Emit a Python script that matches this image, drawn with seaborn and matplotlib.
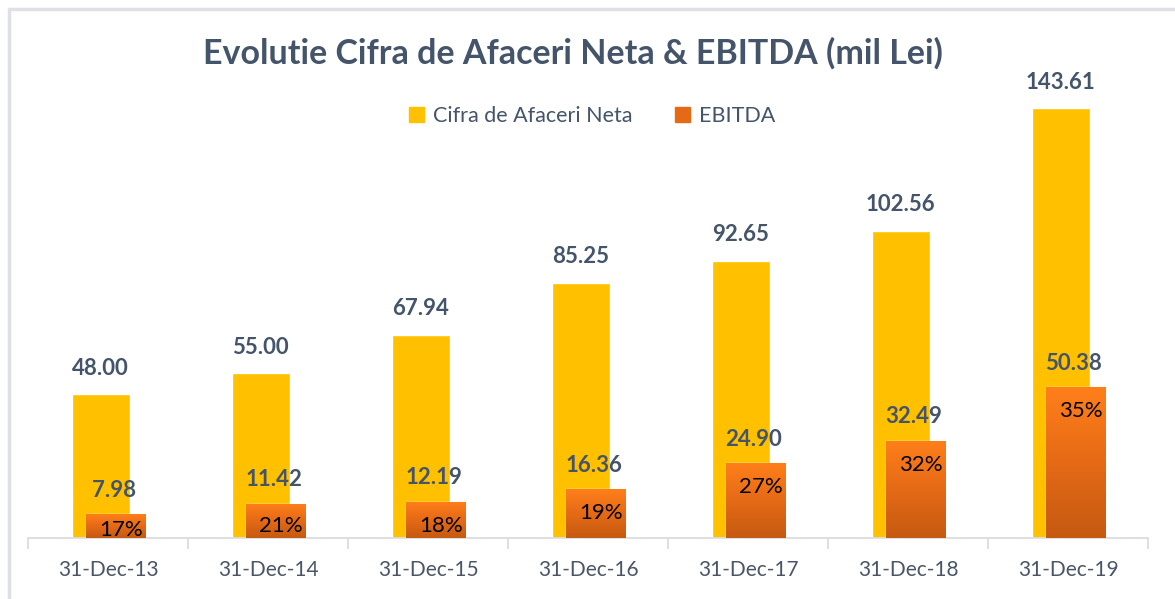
import numpy as np
import pandas as pd
import matplotlib
matplotlib.use("Agg")
import matplotlib.pyplot as plt
import matplotlib.patches as mpatches
from matplotlib.colors import LinearSegmentedColormap
import seaborn as sns

categories = ["31-Dec-13", "31-Dec-14", "31-Dec-15", "31-Dec-16", "31-Dec-17", "31-Dec-18", "31-Dec-19"]
cifra_afaceri = [48.00, 55.00, 67.94, 85.25, 92.65, 102.56, 143.61]
ebitda = [7.98, 11.42, 12.19, 16.36, 24.90, 32.49, 50.38]
ebitda_pct = ["17%", "21%", "18%", "19%", "27%", "32%", "35%"]

title = "Evolutie Cifra de Afaceri Neta & EBITDA (mil Lei)"
series_names = ["Cifra de Afaceri Neta", "EBITDA"]

sns.set_theme(style="white")
plt.rcParams['font.family'] = ['Lato', 'DejaVu Sans']

W, H = 1175, 599
DPI = 100
PX = 72 / DPI  # points per pixel
fig = plt.figure(figsize=(W / DPI, H / DPI), dpi=DPI)
fig.patch.set_facecolor("white")

# figure border (top and left visible light grey lines)
fig.add_artist(plt.Line2D([8.5 / W, 1.0], [1 - 8.5 / H, 1 - 8.5 / H], color="#DDE1E6", lw=2.5))
fig.add_artist(plt.Line2D([8.5 / W, 8.5 / W], [0, 1 - 8.5 / H], color="#DDE1E6", lw=2.5))

ax_left, ax_right = 28, 1148
ax_bottom, ax_top = 538, 59
ax = fig.add_axes([ax_left / W, (H - ax_bottom) / H, (ax_right - ax_left) / W, (ax_bottom - ax_top) / H])
YMAX = 160
px_per_unit = (ax_bottom - ax_top) / YMAX

df = pd.DataFrame({"cat": categories, "cifra": cifra_afaceri, "ebitda": ebitda})

yellow = "#FFC000"
text_col = "#44546A"

sns.barplot(data=df, x="cat", y="cifra", color=yellow, ax=ax, width=0.36, saturation=1, zorder=2)
n_y = len(ax.patches)
sns.barplot(data=df, x="cat", y="ebitda", color="#F07520", ax=ax, width=0.37, saturation=1, zorder=3)

ybars = ax.patches[:n_y]
obars = ax.patches[n_y:]
for p in ybars:
    p.set_x(p.get_x() - 0.045)
for p in obars:
    p.set_x(p.get_x() + 0.048)

# gradient in the EBITDA bars
cmap = LinearSegmentedColormap.from_list("og", ["#C55A11", "#E56A16", "#FF7F1A"])
grad = np.linspace(0, 1, 256).reshape(-1, 1)
for p in obars:
    x0, w, h = p.get_x(), p.get_width(), p.get_height()
    im = ax.imshow(grad, extent=[x0, x0 + w, 0, h], origin="lower", cmap=cmap,
                   aspect="auto", zorder=3.5, interpolation="bicubic")
    im.set_clip_path(p)
ax.set_xlim(-0.5, len(categories) - 0.5)
ax.set_ylim(0, YMAX)

# data labels
for p, v in zip(ybars, cifra_afaceri):
    ax.annotate(f"{v:.2f}", (p.get_x() + p.get_width() / 2, v), xytext=(0, 26 * PX),
                textcoords="offset points", ha="center", va="center",
                fontsize=16, fontweight="bold", color=text_col, zorder=5)
for p, v, pc in zip(obars, ebitda, ebitda_pct):
    cx = p.get_x() + p.get_width() / 2
    ax.annotate(f"{v:.2f}", (cx, v), xytext=(-2 * PX, 24 * PX),
                textcoords="offset points", ha="center", va="center",
                fontsize=16, fontweight="bold", color=text_col, zorder=5)
    off = min(24, 0.66 * v * px_per_unit)
    ax.annotate(pc, (cx, v), xytext=(5 * PX, -off * PX),
                textcoords="offset points", ha="center", va="center",
                fontsize=16, color="black", zorder=5)

# axes styling
for s in ["top", "right", "left"]:
    ax.spines[s].set_visible(False)
ax.spines["bottom"].set_color("#D9DDE3")
ax.spines["bottom"].set_linewidth(1.3)
ax.set_yticks([])
ax.set_xlabel("")
ax.set_ylabel("")
ax.set_xticks(range(len(categories)))
ax.set_xticklabels(categories, fontsize=15, color="#4A5668")
ax.tick_params(axis="x", which="major", length=0, pad=16)
ax.set_xticks(np.arange(-0.5, len(categories), 1), minor=True)
ax.tick_params(axis="x", which="minor", length=8, width=1.3, color="#D9DDE3", bottom=True)

# title
fig.text(573 / W, 1 - 53 / H, title, ha="center", va="center", fontsize=24.5,
         fontweight="bold", color=text_col)

# legend
handles = [mpatches.Patch(color=yellow, label=series_names[0]),
           mpatches.Patch(color="#E56A16", label=series_names[1])]
leg = fig.legend(handles=handles, loc="center", bbox_to_anchor=(592 / W, 1 - 116 / H),
                 ncol=2, frameon=False, fontsize=15.5, handlelength=0.7, handleheight=0.7,
                 handletextpad=0.4, columnspacing=2.0)
for t in leg.get_texts():
    t.set_color(text_col)

fig.savefig("out.png", dpi=DPI, facecolor="white")
